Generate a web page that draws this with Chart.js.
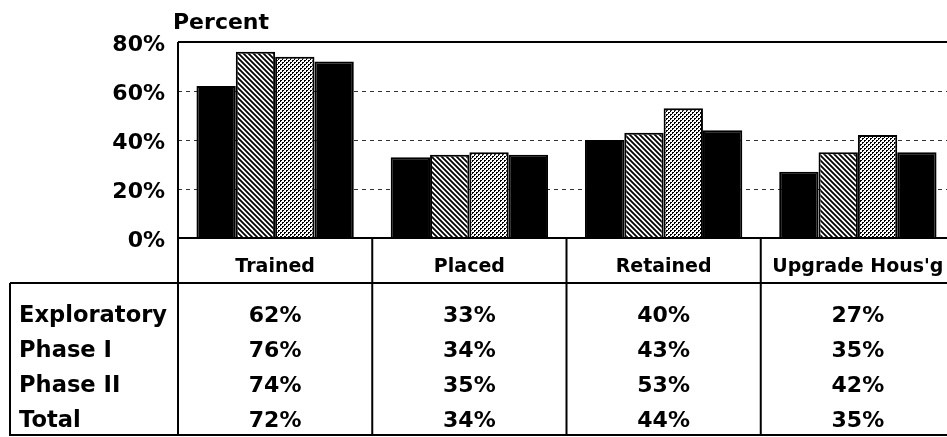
<!DOCTYPE html>
<html>
<head>
<meta charset="utf-8">
<script src="https://cdn.jsdelivr.net/npm/chart.js@4/dist/chart.umd.min.js"></script>
<style>
  html, body { margin: 0; padding: 0; background: #fff; overflow: hidden; }
  #wrap { position: relative; width: 960px; height: 437px; }
</style>
</head>
<body>
<div id="wrap"><canvas id="c"></canvas></div>
<script>
const categories = ['Trained', 'Placed', 'Retained', "Upgrade Hous'g"];
const seriesNames = ['Exploratory', 'Phase I', 'Phase II', 'Total'];
const exploratory = [62, 33, 40, 27];
const phaseI = [76, 34, 43, 35];
const phaseII = [74, 35, 53, 42];
const total = [72, 34, 44, 35];
const yTickValues = [0, 20, 40, 60, 80];
const yTickLabels = ['0%', '20%', '40%', '60%', '80%'];
const yTitle = 'Percent';

function hatchPattern() {
  const s = 5;
  const c = document.createElement('canvas');
  c.width = s; c.height = s;
  const g = c.getContext('2d');
  g.fillStyle = '#fff'; g.fillRect(0, 0, s, s);
  g.strokeStyle = '#000'; g.lineWidth = 1.8;
  g.beginPath();
  g.moveTo(-1, -1); g.lineTo(s + 1, s + 1);
  g.moveTo(-1, s - 1); g.lineTo(1, s + 1);
  g.moveTo(s - 1, -1); g.lineTo(s + 1, 1);
  g.stroke();
  return g.createPattern(c, 'repeat');
}
function dotPattern() {
  const c = document.createElement('canvas');
  c.width = 4; c.height = 4;
  const g = c.getContext('2d');
  g.fillStyle = '#fff'; g.fillRect(0, 0, 4, 4);
  g.fillStyle = '#000';
  g.fillRect(0, 0, 2, 1); g.fillRect(0, 1, 1, 1);
  g.fillRect(2, 2, 2, 1); g.fillRect(2, 3, 1, 1);
  return g.createPattern(c, 'repeat');
}

const seriesData = [exploratory, phaseI, phaseII, total];
const fills = ['#000', hatchPattern(), dotPattern(), '#000'];

const FONT = '"DejaVu Sans", "Liberation Sans", sans-serif';

const tablePlugin = {
  id: 'tablePlugin',
  afterDraw(chart) {
    const ctx = chart.ctx;
    const { left, right, top, bottom } = chart.chartArea;
    const xs = chart.scales.x;
    const W = chart.width;
    const half = (xs.getPixelForValue(1) - xs.getPixelForValue(0)) / 2;
    const headerLine = 283;
    const tableLeft = 10;
    const tableBottom = 435;
    ctx.save();
    ctx.strokeStyle = '#000';
    ctx.lineWidth = 2;
    ctx.beginPath();
    ctx.moveTo(left, top); ctx.lineTo(W, top);
    ctx.moveTo(left, top); ctx.lineTo(left, tableBottom + 1);
    ctx.moveTo(left, bottom); ctx.lineTo(W, bottom);
    for (let i = 1; i <= categories.length; i++) {
      const bx = xs.getPixelForValue(i) - half;
      ctx.moveTo(bx, bottom); ctx.lineTo(bx, tableBottom + 1);
    }
    ctx.moveTo(tableLeft, headerLine); ctx.lineTo(W, headerLine);
    ctx.moveTo(tableLeft, headerLine); ctx.lineTo(tableLeft, tableBottom + 1);
    ctx.moveTo(tableLeft, tableBottom); ctx.lineTo(W, tableBottom);
    ctx.stroke();

    ctx.fillStyle = '#000';
    ctx.textBaseline = 'alphabetic';
    ctx.textAlign = 'left';
    ctx.font = 'bold 22px ' + FONT;
    ctx.fillText(yTitle, 173, 29);
    for (let r = 0; r < seriesNames.length; r++) {
      const yb = headerLine + 39 + r * 35;
      ctx.textAlign = 'left';
      ctx.font = 'bold 22.6px ' + FONT;
      ctx.fillText(seriesNames[r], 19, yb);
      ctx.textAlign = 'center';
      ctx.font = 'bold 22px ' + FONT;
      for (let i = 0; i < categories.length; i++) {
        ctx.fillText(seriesData[r][i] + '%', xs.getPixelForValue(i), yb);
      }
    }
    ctx.restore();
  }
};

new Chart(document.getElementById('c'), {
  type: 'bar',
  data: {
    labels: categories,
    datasets: seriesNames.map((n, k) => ({
      label: n,
      data: seriesData[k],
      backgroundColor: fills[k],
      borderColor: '#000',
      borderWidth: 2,
      categoryPercentage: 0.81,
      barPercentage: 1.0
    }))
  },
  options: {
    responsive: true,
    maintainAspectRatio: false,
    animation: false,
    layout: { padding: { left: 0, top: 42, right: 5, bottom: 0 } },
    plugins: { legend: { display: false }, tooltip: { enabled: false }, title: { display: false } },
    scales: {
      x: {
        grid: { display: false },
        border: { display: false },
        ticks: {
          color: '#000',
          font: { family: FONT, size: 19, weight: 'bold' },
          padding: 10,
          maxRotation: 0,
          autoSkip: false
        },
        afterFit(scale) { scale.height = 199; }
      },
      y: {
        min: 0, max: 80,
        afterBuildTicks(scale) { scale.ticks = yTickValues.map(v => ({ value: v })); },
        grid: {
          drawTicks: false,
          lineWidth: 1,
          color: c => (c.tick && c.tick.value > 0 && c.tick.value < 80) ? '#333' : 'rgba(0,0,0,0)'
        },
        border: { display: false, dash: [4, 4] },
        ticks: {
          color: '#000',
          font: { family: FONT, size: 22, weight: 'bold' },
          padding: 13,
          labelOffset: 3,
          callback: (v) => yTickLabels[yTickValues.indexOf(v)]
        },
        afterFit(scale) { scale.width = 178; }
      }
    }
  },
  plugins: [tablePlugin]
});
</script>
</body>
</html>
